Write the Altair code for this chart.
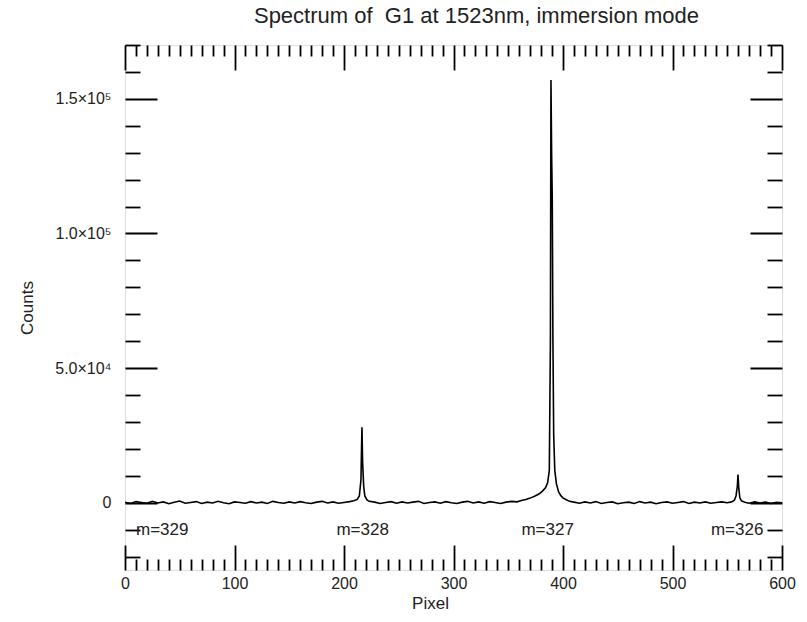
import altair as alt
import pandas as pd

# ---------------- data ----------------
pixel = [0, 5, 10, 15, 20, 25, 30, 35, 40, 45, 50, 55, 60, 65, 70, 75, 80, 85, 90, 95,
         100, 105, 110, 115, 120, 125, 130, 135, 140, 145, 150, 155, 160, 165, 170, 175,
         180, 185, 190, 195, 200, 205,
         209, 212, 214, 215.5, 216, 216.4, 217, 218, 219, 221, 223,
         228, 233, 238, 243, 248, 253, 258, 263, 268, 273, 278, 283, 288, 293, 298, 303,
         308, 313, 318, 323, 328, 333, 338, 343, 348, 353, 358, 362, 366, 370, 374, 378,
         381, 384, 386, 387.5, 388.5, 389, 389.6, 390.2, 390.8, 391.5, 392.5, 394, 396,
         398, 400, 403, 406, 410, 415, 420, 425, 430, 435, 440, 445, 450, 455, 460, 465,
         470, 475, 480, 485, 490, 495, 500, 505, 510, 515, 520, 525, 530, 535, 540, 545,
         550, 554, 556.5, 558, 559.2, 559.8, 560.5, 561.5, 563, 566, 570, 575, 580, 585,
         590, 595, 600]
counts = [200, -300, 400, 100, -200, 500, -100, 300, -400, 200, 600, -200, 100, 400, -300, 200,
          -100, 500, 0, -400, 300, 100, -200, 400, -100, 200, -300, 500, 100, -200, 300, -100,
          400, 0, -300, 200, 500, -100, 300, -200, 100, 400,
          700, 1200, 2500, 8500, 20000, 28000, 15000, 6000, 2500, 1000, 500,
          200, -300, 100, 400, -200, 300, -100, 200, 500, -300, 100, 300, -200, 400, 0, -300,
          200, 500, -100, 300, -200, 400, 100, -300, 200, 500, 300, 800, 1200, 1700, 2400, 3200,
          4200, 5500, 7500, 12000, 60000, 157000, 130000, 113000, 60000, 25000, 12000, 7000, 4000,
          2600, 1800, 1100, 500, 200, -200, 300, -100, 400, -300, 100, 300, -400, 0, 200, -300,
          400, -100, 200, -400, 100, 300, -200, 100, 400, -300, 200, -100, 300, -200, 100, 300,
          0, 300, 900, 2500, 6000, 10500, 5500, 1800, 700, 200, -200, 300, -100, 200,
          -300, 100, 0]

order_labels = ["m=329", "m=328", "m=327", "m=326"]
order_pixel = [34, 217, 386, 559]
order_counts = [-10000, -10000, -10000, -10000]

x_major = [0, 100, 200, 300, 400, 500, 600]
x_major_labels = ["0", "100", "200", "300", "400", "500", "600"]
x_minor = [v for v in range(0, 601, 10) if v % 100 != 0]
y_major = [0, 50000, 100000, 150000]
y_major_labels = ["0", "5.0×10⁴", "1.0×10⁵", "1.5×10⁵"]
y_minor = [v for v in range(-20000, 170001, 10000) if v % 50000 != 0]

df = pd.DataFrame({"pixel": pixel, "counts": counts})
lab = pd.DataFrame({"pixel": order_pixel, "counts": order_counts, "label": order_labels})

FONT = "Liberation Sans"
INK = "#222222"


def label_expr(values, labels):
    expr = "''"
    for v, l in reversed(list(zip(values, labels))):
        expr = f"datum.value == {v} ? '{l}' : ({expr})"
    return expr


common = dict(domain=False, grid=False, tickColor="black", tickWidth=1.8)

ax_bottom_major = alt.Axis(orient="bottom", values=x_major, tickSize=25, offset=-25,
                           labelExpr=label_expr(x_major, x_major_labels),
                           labelFont=FONT, labelFontSize=16, labelColor=INK,
                           labelPadding=5, labelFlush=False, labelOverlap=False,
                           title="Pixel", titleFont=FONT, titleFontSize=17,
                           titleFontWeight="normal", titleColor=INK, titlePadding=4,
                           titleX=305, **common)
ax_bottom_minor = alt.Axis(orient="bottom", values=x_minor, tickSize=11, offset=-11,
                           labels=False, title=None, **common)
ax_top_major = alt.Axis(orient="top", values=x_major, tickSize=25, offset=-25,
                        labels=False, title=None, **common)
ax_top_minor = alt.Axis(orient="top", values=x_minor, tickSize=11, offset=-11,
                        labels=False, title=None, **common)

ax_left_major = alt.Axis(orient="left", values=y_major, tickSize=32, offset=-32,
                         labelExpr=label_expr(y_major, y_major_labels),
                         labelFont=FONT, labelFontSize=16, labelColor=INK,
                         labelPadding=14, labelFlush=False, labelOverlap=False,
                         title="Counts", titleFont=FONT, titleFontSize=17,
                         titleFontWeight="normal", titleColor=INK, titlePadding=18,
                         **common)
ax_left_minor = alt.Axis(orient="left", values=y_minor, tickSize=15, offset=-15,
                         labels=False, title=None, **common)
ax_right_major = alt.Axis(orient="right", values=y_major, tickSize=32, offset=-32,
                          labels=False, title=None, **common)
ax_right_minor = alt.Axis(orient="right", values=y_minor, tickSize=15, offset=-15,
                          labels=False, title=None, **common)

xs = alt.Scale(domain=[0, 600], nice=False, zero=False)
ys = alt.Scale(domain=[-25000, 170000], nice=False, zero=False)

base = alt.Chart(df)

line = base.mark_line(color="black", strokeWidth=1.6, clip=True).encode(
    x=alt.X("pixel:Q", scale=xs, axis=ax_bottom_major),
    y=alt.Y("counts:Q", scale=ys, axis=ax_left_major),
)
l2 = base.mark_line(opacity=0).encode(
    x=alt.X("pixel:Q", scale=xs, axis=ax_bottom_minor),
    y=alt.Y("counts:Q", scale=ys, axis=ax_left_minor),
)
l3 = base.mark_line(opacity=0).encode(
    x=alt.X("pixel:Q", scale=xs, axis=ax_top_major),
    y=alt.Y("counts:Q", scale=ys, axis=ax_right_major),
)
l4 = base.mark_line(opacity=0).encode(
    x=alt.X("pixel:Q", scale=xs, axis=ax_top_minor),
    y=alt.Y("counts:Q", scale=ys, axis=ax_right_minor),
)

text = alt.Chart(lab).mark_text(font=FONT, fontSize=17, color=INK, align="center",
                                baseline="middle").encode(
    x=alt.X("pixel:Q", scale=xs, axis=None),
    y=alt.Y("counts:Q", scale=ys, axis=None),
    text="label:N",
)

chart = alt.layer(line, l2, l3, l4, text).resolve_axis(
    x="independent", y="independent"
).properties(
    width=657,
    height=525,
    autosize=alt.AutoSizeParams(type="none"),
    padding={"left": 125, "top": 45, "right": 25, "bottom": 52},
    title=alt.TitleParams(
        "Spectrum of\u00a0 G1 at 1523nm, immersion mode",
        font=FONT, fontSize=22, fontWeight="normal", color=INK,
        anchor="middle", dx=23, offset=16,
    ),
).configure_view(stroke="black", strokeWidth=1.8).configure(background="white")

chart.save("out.html", embed_options={"renderer": "svg", "actions": False})
